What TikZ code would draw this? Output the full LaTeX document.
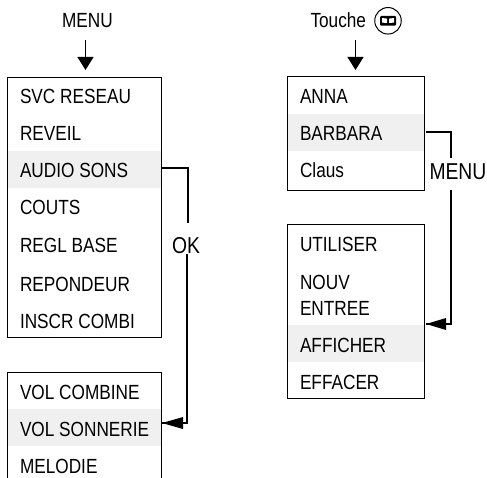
\documentclass[tikz,border=0pt]{standalone}
\usepackage{fontspec}
\setmainfont[FakeStretch=0.84]{Liberation Sans}
\usetikzlibrary{arrows.meta}
\tikzset{
  x=1pt,y=-1pt,
  txt/.style={anchor=base west,inner sep=0pt,outer sep=0pt,font=\fontsize{20.5}{22}\selectfont,text=black},
  bigtxt/.style={txt,font=\fontsize{23}{25}\selectfont},
  menubox/.style={draw=black,line width=1pt,anchor=north west,inner sep=0pt,outer sep=0pt},
  band/.style={fill=black!6,anchor=north west,inner sep=0pt,outer sep=0pt,minimum width=#1,minimum height=37pt},
  conn/.style={line width=2pt},
  tipdown/.style={line width=1pt,-{Triangle[length=13pt,width=16pt]}},
}
\begin{document}
\begin{tikzpicture}
\useasboundingbox (0,0) rectangle (487,478);
% gray bands
\node[band=153pt] (audio) at (8,151) {};
\node[band=153pt] (volson) at (8,409) {};
\node[band=136pt] (barbara) at (288,114) {};
\node[band=136pt] (afficher) at (288,325) {};
% boxes
\node[menubox,minimum width=154pt,minimum height=260pt] (menubox) at (7.5,77.5) {};
\node[menubox,minimum width=137pt,minimum height=114pt] (annabox) at (287.5,76.5) {};
\node[menubox,minimum width=137pt,minimum height=174pt] (utilbox) at (287.5,224.5) {};
% open box
\coordinate (ol) at (7.5,478);
\coordinate (or) at (161.5,478);
\draw[line width=1pt] (ol) |- (161.5,372.5) -- (or);
% texts
\node[txt] (tmenu) at (62,28) {MENU};
\node[txt] (ttouche) at (310.5,28) {Touche};
\node[draw,circle,line width=1pt,minimum size=26.5pt,inner sep=0pt] (bookkey) at (388,20.8) {};
\fill[black,rounded corners=1pt] (bookkey.center) ++(-8,-4.8) rectangle ++(16,9.6);
\fill[white] (bookkey.center) ++(-6,-2.8) -- ++(5,0.6) -- ++(0,4.4) -- ++(-5,-0.4) -- cycle;
\fill[white] (bookkey.center) ++(6,-2.8) -- ++(-5,0.6) -- ++(0,4.4) -- ++(5,-0.4) -- cycle;
\node[txt] (t1) at (20,104) {SVC RESEAU};
\node[txt] (t2) at (20,141) {REVEIL};
\node[txt] (t3) at (20,178) {AUDIO SONS};
\node[txt] (t4) at (20,215) {COUTS};
\node[txt] (t5) at (20,252.5) {REGL BASE};
\node[txt] (t6) at (20,291) {REPONDEUR};
\node[txt] (t7) at (20,328) {INSCR COMBI};
\node[txt] (v1) at (20,399) {VOL COMBINE};
\node[txt] (v2) at (20,436) {VOL SONNERIE};
\node[txt] (v3) at (20,473) {MELODIE};
\node[txt] (a1) at (300,104) {ANNA};
\node[txt] (a2) at (300,141) {BARBARA};
\node[txt] (a3) at (300,178) {Claus};
\node[txt] (u1) at (300,252) {UTILISER};
\node[txt] (u2) at (300,289) {NOUV};
\node[txt] (u3) at (300,315) {ENTREE};
\node[txt] (u4) at (300,352) {AFFICHER};
\node[txt] (u5) at (300,389) {EFFACER};
\node[bigtxt] (ok) at (172,254) {OK};
\node[bigtxt] (lmenu) at (429.5,180) {MENU};
% arrows
\coordinate (s1) at (85.5,40);
\coordinate (e1) at (85.5,70);
\coordinate (s2) at (355.5,40);
\coordinate (e2) at (355.5,70);
\draw[tipdown] (s1) -- (e1);
\draw[tipdown] (s2) -- (e2);
% connector AUDIO -> VOL SONNERIE
\coordinate (c1a) at (160.5,168);
\coordinate (c1b) at (188,168);
\coordinate (c1c) at (188,223.5);
\coordinate (c1d) at (187,254);
\coordinate (c1e) at (187,423);
\coordinate (c1f) at (162,423);
\draw[conn] (c1a) -- (c1b) -- (c1c);
\draw[conn] (c1d) -- (c1e) -- (c1f);
\fill[black] (c1f) -- ++(21,-6) -- ++(0,12) -- cycle;
% connector BARBARA -> AFFICHER
\coordinate (c2a) at (426,132);
\coordinate (c2b) at (450.5,132);
\coordinate (c2c) at (450.5,158.5);
\coordinate (c2d) at (450.5,190);
\coordinate (c2e) at (450.5,324);
\coordinate (c2f) at (426,324);
\draw[conn] (c2a) -- (c2b) -- (c2c);
\draw[conn] (c2d) -- (c2e) -- (c2f);
\fill[black] (c2f) -- ++(20,-6) -- ++(0,12) -- cycle;
\end{tikzpicture}
\end{document}
